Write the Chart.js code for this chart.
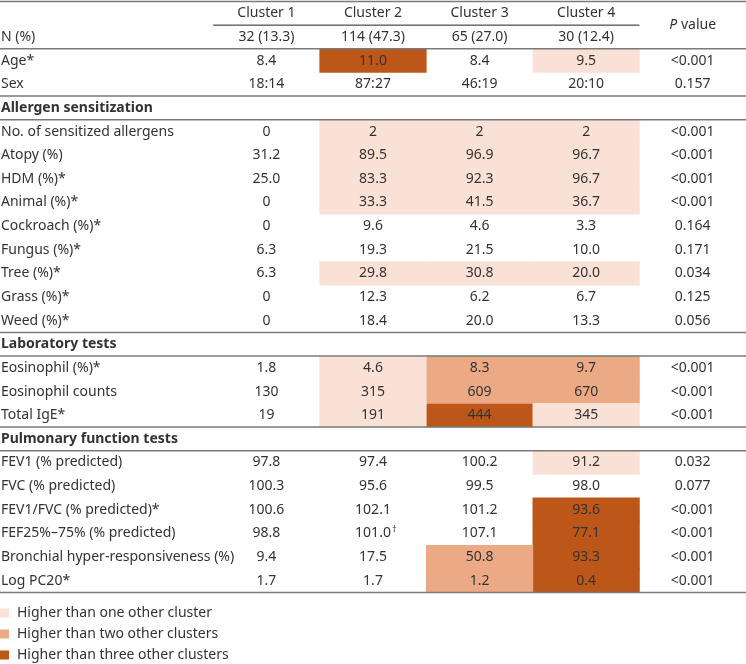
<!DOCTYPE html>
<html>
<head>
<meta charset="utf-8">
<script src="https://cdn.jsdelivr.net/npm/chart.js@4"></script>
<style>
  html, body { margin: 0; padding: 0; background: #fff; }
  #wrap { width: 746px; height: 664px; position: relative; }
</style>
</head>
<body>
<div id="wrap"><canvas id="chart"></canvas></div>
<script>
// table data
const clusters = ['Cluster 1', 'Cluster 2', 'Cluster 3', 'Cluster 4'];
const clusterN = ['32 (13.3)', '114 (47.3)', '65 (27.0)', '30 (12.4)'];
const headings = ['Allergen sensitization', 'Laboratory tests', 'Pulmonary function tests'];

const rowLabels = [
  'Age*', 'Sex',
  'Allergen sensitization',
  'No. of sensitized allergens', 'Atopy (%)', 'HDM (%)*', 'Animal (%)*', 'Cockroach (%)*',
  'Fungus (%)*', 'Tree (%)*', 'Grass (%)*', 'Weed (%)*',
  'Laboratory tests',
  'Eosinophil (%)*', 'Eosinophil counts', 'Total IgE*',
  'Pulmonary function tests',
  'FEV1 (% predicted)', 'FVC (% predicted)', 'FEV1/FVC (% predicted)*',
  'FEF25%–75% (% predicted)', 'Bronchial hyper-responsiveness (%)', 'Log PC20*'
];

const cluster1Values = ['8.4', '18:14', null, '0', '31.2', '25.0', '0', '0', '6.3', '6.3', '0', '0',
  null, '1.8', '130', '19', null, '97.8', '100.3', '100.6', '98.8', '9.4', '1.7'];
const cluster2Values = ['11.0', '87:27', null, '2', '89.5', '83.3', '33.3', '9.6', '19.3', '29.8', '12.3', '18.4',
  null, '4.6', '315', '191', null, '97.4', '95.6', '102.1', '101.0†', '17.5', '1.7'];
const cluster3Values = ['8.4', '46:19', null, '2', '96.9', '92.3', '41.5', '4.6', '21.5', '30.8', '6.2', '20.0',
  null, '8.3', '609', '444', null, '100.2', '99.5', '101.2', '107.1', '50.8', '1.2'];
const cluster4Values = ['9.5', '20:10', null, '2', '96.7', '96.7', '36.7', '3.3', '10.0', '20.0', '6.7', '13.3',
  null, '9.7', '670', '345', null, '91.2', '98.0', '93.6', '77.1', '93.3', '0.4'];
const pValues = ['<0.001', '0.157', null, '<0.001', '<0.001', '<0.001', '<0.001', '0.164', '0.171', '0.034', '0.125', '0.056',
  null, '<0.001', '<0.001', '<0.001', null, '0.032', '0.077', '<0.001', '<0.001', '<0.001', '<0.001'];

// 0 = none, 1..3 = number of clusters it is higher than
const cluster1Levels = [0, 0, 0, 0, 0, 0, 0, 0, 0, 0, 0, 0, 0, 0, 0, 0, 0, 0, 0, 0, 0, 0, 0];
const cluster2Levels = [3, 0, 0, 1, 1, 1, 1, 0, 0, 1, 0, 0, 0, 1, 1, 1, 0, 0, 0, 0, 0, 0, 0];
const cluster3Levels = [0, 0, 0, 1, 1, 1, 1, 0, 0, 1, 0, 0, 0, 2, 2, 3, 0, 0, 0, 0, 0, 2, 2];
const cluster4Levels = [1, 0, 0, 1, 1, 1, 1, 0, 0, 1, 0, 0, 0, 2, 2, 1, 0, 1, 0, 3, 3, 3, 3];

const levelLabels = ['Higher than one other cluster', 'Higher than two other clusters', 'Higher than three other clusters'];
const levelColors = ['#FAE1D6', '#ECA985', '#BD5619'];

const clusterValues = [cluster1Values, cluster2Values, cluster3Values, cluster4Values];
const clusterLevels = [cluster1Levels, cluster2Levels, cluster3Levels, cluster4Levels];

// y categories: two header rows then the body
const yLabels = ['header', 'N (%)', ...rowLabels];
const BODY = 2;        // first body row index
const FIRST_COL = 2;   // label column takes x 0..2, clusters 2..6, P value 6..7

const FONT = '"Noto Sans", sans-serif';
const SIZE = '14px ';
const TEXT = '#333333';

const datasets = levelLabels.map((label, li) => {
  const data = [];
  clusterLevels.forEach((levels, c) => {
    levels.forEach((lv, r) => {
      if (lv === li + 1) data.push({ x: [FIRST_COL + c, FIRST_COL + c + 1], y: rowLabels[r] });
    });
  });
  return {
    label,
    data,
    backgroundColor: levelColors[li],
    borderWidth: 0,
    grouped: false,
    barPercentage: 1,
    categoryPercentage: 1,
  };
});

const tablePlugin = {
  id: 'tableText',
  afterDatasetsDraw(chart) {
    const { ctx } = chart;
    const xs = chart.scales.x;
    const ys = chart.scales.y;
    const band = (ys.bottom - ys.top) / yLabels.length;
    const rowTop = (i) => ys.getPixelForValue(i) - band / 2;
    const rowBot = (i) => ys.getPixelForValue(i) + band / 2;
    const colX = (c) => xs.getPixelForValue(FIRST_COL + c + 0.5);
    const pX = xs.getPixelForValue(6.5);

    ctx.save();
    // rules
    const hline = (y, x0, x1, w, col) => {
      ctx.beginPath();
      ctx.lineWidth = w;
      ctx.strokeStyle = col;
      ctx.moveTo(x0, y);
      ctx.lineTo(x1, y);
      ctx.stroke();
    };
    const L = xs.getPixelForValue(0), R = xs.getPixelForValue(7);
    hline(rowTop(0), L, R, 1.5, '#7a7a7a');
    hline(rowBot(0), xs.getPixelForValue(2), xs.getPixelForValue(6), 1, '#222');
    hline(rowBot(1), L, R, 1.5, '#7a7a7a');
    rowLabels.forEach((lab, r) => {
      if (headings.includes(lab)) {
        hline(rowTop(BODY + r), L, R, 1.5, '#7a7a7a');
        hline(rowBot(BODY + r), L, R, 1.5, '#7a7a7a');
      }
    });
    hline(rowBot(yLabels.length - 1), L, R, 1.5, '#7a7a7a');

    ctx.fillStyle = TEXT;
    ctx.textBaseline = 'middle';
    ctx.font = SIZE + FONT;

    // header
    ctx.textAlign = 'center';
    clusters.forEach((c, i) => ctx.fillText(c, colX(i), ys.getPixelForValue(0)));
    clusterN.forEach((c, i) => ctx.fillText(c, colX(i), ys.getPixelForValue(1)));
    ctx.textAlign = 'left';
    ctx.fillText('N (%)', L + 1, ys.getPixelForValue(1));
    // "P value" spanning both header rows
    const py = rowBot(0);
    ctx.font = 'italic ' + SIZE + FONT;
    const pW = ctx.measureText('P').width;
    ctx.font = SIZE + FONT;
    const vW = ctx.measureText(' value').width;
    const px0 = pX - (pW + vW) / 2;
    ctx.font = 'italic ' + SIZE + FONT;
    ctx.fillText('P', px0, py);
    ctx.font = SIZE + FONT;
    ctx.fillText(' value', px0 + pW, py);

    // body
    rowLabels.forEach((lab, r) => {
      const y = ys.getPixelForValue(BODY + r);
      ctx.textAlign = 'left';
      if (headings.includes(lab)) {
        ctx.font = 'bold ' + SIZE + FONT;
        ctx.fillText(lab, L + 1, y);
        return;
      }
      ctx.font = SIZE + FONT;
      ctx.fillText(lab, L + 1, y);
      ctx.textAlign = 'center';
      clusterValues.forEach((vals, c) => {
        const v = vals[r];
        if (v.endsWith('†')) {
          const main = v.slice(0, -1);
          ctx.fillText(main, colX(c), y);
          const w = ctx.measureText(main).width;
          ctx.font = '9px ' + FONT;
          ctx.textAlign = 'left';
          ctx.fillText('†', colX(c) + w / 2 + 1, y - 4);
          ctx.font = SIZE + FONT;
          ctx.textAlign = 'center';
        } else {
          ctx.fillText(v, colX(c), y);
        }
      });
      ctx.fillText(pValues[r], pX, y);
    });

    // legend below the table
    const base = rowBot(yLabels.length - 1);
    ctx.textAlign = 'left';
    ctx.font = SIZE + FONT;
    chart.data.datasets.forEach((ds, i) => {
      const y = base + 20.5 + i * 21;
      ctx.fillStyle = ds.backgroundColor;
      ctx.fillRect(L, y - 4.5, 9, 9);
      ctx.fillStyle = TEXT;
      ctx.fillText(ds.label, L + 17, y);
    });
    ctx.restore();
  }
};

new Chart(document.getElementById('chart'), {
  type: 'bar',
  data: { labels: yLabels, datasets },
  options: {
    indexAxis: 'y',
    responsive: true,
    maintainAspectRatio: false,
    animation: false,
    layout: { padding: { top: 1.5, bottom: 71.5, left: 0, right: 0 } },
    scales: {
      x: { type: 'linear', min: 0, max: 7, display: false },
      y: { type: 'category', labels: yLabels, display: false, offset: true },
    },
    plugins: {
      legend: { display: false },
      tooltip: { enabled: false },
    },
  },
  plugins: [tablePlugin],
});
</script>
</body>
</html>
